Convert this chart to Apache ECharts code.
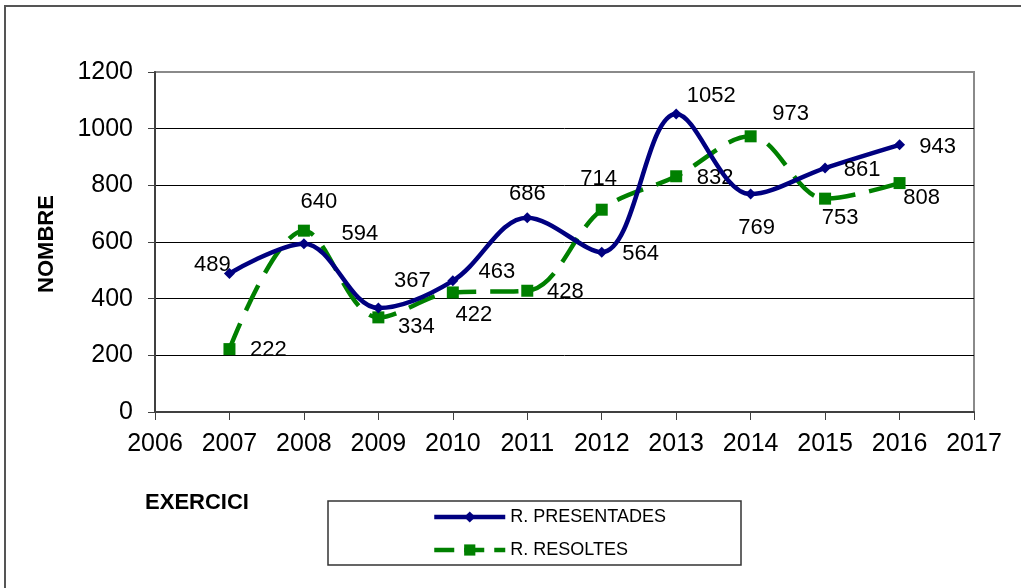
<!DOCTYPE html>
<html>
<head>
<meta charset="utf-8">
<script src="https://cdn.jsdelivr.net/npm/echarts@6/dist/echarts.min.js"></script>
<style>
  html, body { margin: 0; padding: 0; background: #fff; }
  #chart { width: 1021px; height: 588px; }
</style>
</head>
<body>
<div id="chart"></div>
<script>
// dades
const years = [2007, 2008, 2009, 2010, 2011, 2012, 2013, 2014, 2015, 2016];
const presentades = [489, 594, 367, 463, 686, 564, 1052, 769, 861, 943];
const resoltes = [222, 640, 334, 422, 428, 714, 832, 973, 753, 808];
const seriesNames = ["R. PRESENTADES", "R. RESOLTES"];

// desplaçament de cada etiqueta respecte al punt (px)
const offPresentades = [[-17, -9], [56, -10], [34, -27], [44, -9], [0, -24], [39, 2], [35, -18], [6, 34], [37, 2], [38, 2]];
const offResoltes = [[39, 1], [15, -29], [38, 10], [21, 23], [38, 1], [-3, -31], [39, 2], [40, -22], [15, 19], [22, 15]];

const FONT = "Liberation Sans, Arial, sans-serif";
const NAVY = "#000080";
const GREEN = "#008000";
const DASH = [28, 14];

function points(vals, offs) {
  return vals.map((v, i) => ({
    value: [years[i], v],
    label: { offset: offs[i] },
  }));
}

const labelStyle = {
  show: true,
  position: "inside",
  align: "center",
  verticalAlign: "middle",
  color: "#000",
  fontFamily: FONT,
  fontSize: 22,
  formatter: (p) => p.value[1],
};

const chart = echarts.init(document.getElementById("chart"), null, { renderer: "canvas" });

const options = {
  animation: false,
  backgroundColor: "#fff",
  grid: {
    left: 155,
    right: 47,
    top: 72,
    bottom: 176,
    show: true,
    borderColor: "#8a8a8a",
    borderWidth: 2,
  },
  xAxis: {
    type: "value",
    min: 2006,
    max: 2017,
    interval: 1,
    axisLine: { lineStyle: { color: "#404040", width: 2 } },
    axisTick: { show: true, length: 8, lineStyle: { color: "#404040", width: 1 } },
    axisLabel: {
      color: "#000",
      fontFamily: FONT,
      fontSize: 25,
      margin: 20,
      formatter: (v) => String(v),
    },
    splitLine: { show: false },
  },
  yAxis: {
    type: "value",
    min: 0,
    max: 1200,
    interval: 200,
    axisLine: { show: true, lineStyle: { color: "#404040", width: 2 } },
    axisTick: { show: true, length: 7, lineStyle: { color: "#404040", width: 1 } },
    axisLabel: {
      color: "#000",
      fontFamily: FONT,
      fontSize: 25,
      margin: 22,
      formatter: (v) => String(v),
    },
    splitLine: { show: true, showMaxLine: false, lineStyle: { color: "#000", width: 1 } },
  },
  legend: {
    orient: "vertical",
    left: 432,
    top: 508,
    padding: 0,
    itemWidth: 71,
    itemHeight: 14,
    itemGap: 15,
    textStyle: { color: "#000", fontFamily: FONT, fontSize: 18, padding: [0, 0, 0, 0] },
    data: [
      { name: seriesNames[0], lineStyle: { width: 4.5, color: NAVY } },
      { name: seriesNames[1], lineStyle: { width: 4.5, color: GREEN, type: [20, 10] } },
    ],
  },
  graphic: [
    {
      type: "rect",
      shape: { x: 5, y: 6, width: 1040, height: 620 },
      style: { fill: "none", stroke: "#555", lineWidth: 2 },
      silent: true,
      z: -1,
    },
    {
      type: "rect",
      shape: { x: 328, y: 501, width: 413, height: 64 },
      style: { fill: "#fff", stroke: "#333", lineWidth: 1.5 },
      silent: true,
      z: -1,
    },
    {
      type: "text",
      x: 197,
      y: 503,
      style: {
        text: "EXERCICI",
        fill: "#000",
        font: "bold 22px " + FONT,
        align: "center",
        verticalAlign: "middle",
      },
    },
    {
      type: "text",
      x: 47,
      y: 244,
      rotation: Math.PI / 2,
      style: {
        text: "NOMBRE",
        fill: "#000",
        font: "bold 22px " + FONT,
        align: "center",
        verticalAlign: "middle",
      },
    },
  ],
  series: [
    {
      name: seriesNames[0],
      type: "line",
      smooth: 0.35,
      data: points(presentades, offPresentades),
      symbol: "diamond",
      symbolSize: 11,
      lineStyle: { color: NAVY, width: 4.5 },
      itemStyle: { color: NAVY },
      label: labelStyle,
      z: 3,
    },
    {
      name: seriesNames[1],
      type: "line",
      smooth: 0.35,
      data: points(resoltes, offResoltes),
      symbol: "rect",
      symbolSize: 12,
      lineStyle: { color: GREEN, width: 4.5, type: DASH },
      itemStyle: { color: GREEN },
      label: labelStyle,
      z: 2,
    },
  ],
};

chart.setOption(options);

window.addEventListener("resize", () => {
  chart.resize();
});
</script>
</body>
</html>
